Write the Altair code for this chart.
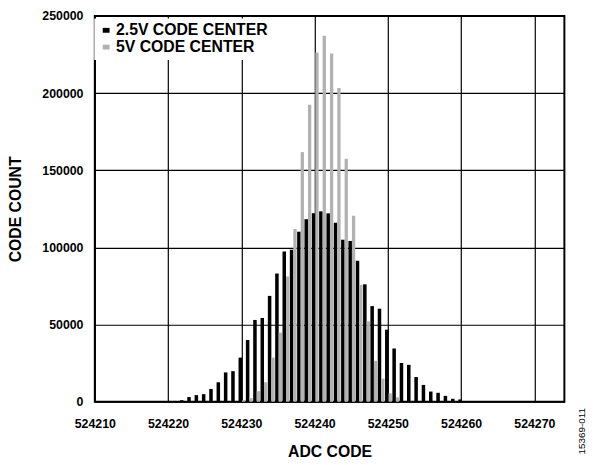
import altair as alt
import pandas as pd

# ---- data ----
codes_25 = list(range(524219, 524262))
counts_25 = [100, 400, 500, 1000, 3000, 4300, 4900, 8300, 12600, 19000,
             19800, 28600, 40000, 53000, 54300, 68600, 83100, 97400, 98500, 110200,
             118300, 122100, 123400, 122100, 116000, 105000, 104200, 91400, 76100, 62000,
             60300, 46700, 34500, 25100, 23900, 16000, 10900, 6600, 5800, 3800,
             1900, 1500, 400]
codes_5 = list(range(524230, 524252))
counts_5 = [1000, 2300, 6800, 12600, 28600, 44800, 81200, 111900, 161800, 192500,
            226300, 237200, 225700, 203300, 157500, 120500, 75800, 52100, 26500, 15000,
            5400, 2900]
series_names = ["2.5V CODE CENTER", "5V CODE CENTER"]
series_colors = ["#000000", "#b2b2b2"]
x_ticks = [524210, 524220, 524230, 524240, 524250, 524260, 524270]
y_ticks = [0, 50000, 100000, 150000, 200000, 250000]
x_domain = [524210, 524274.1]
y_domain = [0, 250000]
note = "15369-011"

FONT = "Liberation Sans"

df = pd.DataFrame({
    "code": codes_25 + codes_5,
    "count": counts_25 + counts_5,
    "series": [series_names[0]] * len(codes_25) + [series_names[1]] * len(codes_5),
})

bars = alt.Chart(df).transform_calculate(
    x0=f"datum.series == '{series_names[0]}' ? datum.code - 0.38 : datum.code + 0.1",
    x1=f"datum.series == '{series_names[0]}' ? datum.code + 0.1 : datum.code + 0.55",
).mark_rect(strokeWidth=0).encode(
    x=alt.X("x0:Q",
            scale=alt.Scale(domain=x_domain, nice=False, zero=False),
            axis=alt.Axis(values=x_ticks, format="d", title="ADC CODE",
                          labelFlush=False, titlePadding=14, labelPadding=16)),
    x2="x1:Q",
    y=alt.Y("count:Q",
            scale=alt.Scale(domain=y_domain, nice=False),
            axis=alt.Axis(values=y_ticks, format="d", title="CODE COUNT",
                          titlePadding=19, labelPadding=12)),
    y2=alt.datum(0),
    color=alt.Color("series:N",
                    scale=alt.Scale(domain=series_names, range=series_colors),
                    legend=alt.Legend(
                        title=None, orient="none", legendX=-1, legendY=2,
                        padding=4.5, fillColor="white", strokeColor="transparent",
                        symbolType="M-1,-0.7L1,-0.7L1,0.7L-1,0.7Z", symbolSize=49,
                        symbolStrokeWidth=0, symbolOpacity=1,
                        labelFont=FONT, labelFontSize=16, labelFontWeight="bold",
                        labelColor="black", labelOffset=2, rowPadding=1,
                    )),
)

note_layer = alt.Chart(pd.DataFrame({"t": [note]})).mark_text(
    angle=270, fontSize=10, font=FONT, color="black", align="center", baseline="middle"
).encode(x=alt.value(494), y=alt.value(421), text="t:N")

chart = alt.layer(bars, note_layer).properties(
    width=476, height=391,
    autosize=alt.AutoSizeParams(type="none"),
    padding={"left": 88, "top": 5, "right": 28, "bottom": 60},
    background="white",
).configure_view(
    stroke="black", strokeWidth=2
).configure_axis(
    grid=True, gridColor="black", gridWidth=1.2, gridOpacity=1,
    ticks=False, domain=False,
    labelFont=FONT, labelFontSize=12.5, labelFontWeight="bold", labelColor="black",
    titleFont=FONT, titleFontSize=16, titleFontWeight="bold", titleColor="black",
)

chart.save("out.html", embed_options={"renderer": "svg", "actions": False})
